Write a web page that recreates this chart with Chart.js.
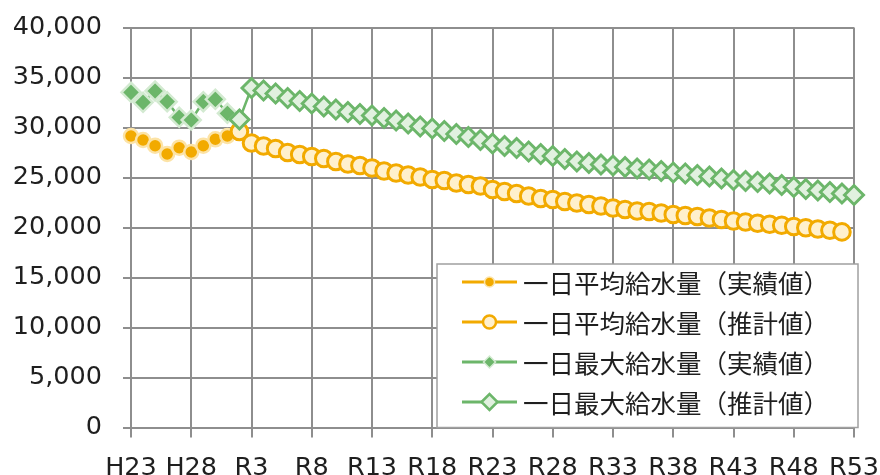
<!DOCTYPE html>
<html>
<head>
<meta charset="utf-8">
<script src="https://cdn.jsdelivr.net/npm/chart.js@4.4.0/dist/chart.umd.min.js"></script>
<style>
  html, body { margin: 0; padding: 0; background: #fff; overflow: hidden; }
  #wrap { width: 880px; height: 495px; }
</style>
</head>
<body>
<div id="wrap"><canvas id="grafico"></canvas></div>
<script>
// 年度ラベル（H23〜R53）
const years = ['H23','H24','H25','H26','H27','H28','H29','H30','R1'];
for (let r = 2; r <= 53; r++) years.push('R' + r);

// 実績値（H23〜R2）
const avgActual = [29150, 28750, 28180, 27350, 27980, 27550, 28180, 28820, 29150, 29600];
const maxActual = [33520, 32520, 33650, 32580, 31020, 30750, 32580, 32820, 31420, 30800];

// 推計値 平均（R2〜R52）
const avgForecast = [29600, 28450, 28150, 27900, 27500, 27300, 27100, 26900, 26600, 26350,
  26200, 25950, 25650, 25450, 25250, 25050, 24800, 24700, 24450, 24300,
  24150, 23800, 23600, 23400, 23150, 22900, 22800, 22600, 22450, 22300,
  22150, 21950, 21800, 21650, 21600, 21450, 21300, 21200, 21100, 20950,
  20800, 20650, 20550, 20430, 20330, 20230, 20100, 19980, 19850, 19720, 19560];

// 推計値 最大（R2〜R53）
const maxForecast = [30800, 33950, 33700, 33400, 32950, 32650, 32400, 32100, 31800, 31550,
  31350, 31200, 30950, 30700, 30400, 30100, 29900, 29650, 29350, 29050,
  28750, 28400, 28150, 27950, 27600, 27350, 27150, 26850, 26600, 26450,
  26300, 26200, 26050, 25900, 25800, 25650, 25500, 25400, 25250, 25100,
  24900, 24750, 24650, 24550, 24400, 24250, 24050, 23850, 23700, 23550, 23400, 23250];

const seriesNames = [
  '一日平均給水量（実績値）',
  '一日平均給水量（推計値）',
  '一日最大給水量（実績値）',
  '一日最大給水量（推計値）'
];

const NARANJA = '#F2AA00';
const CREMA = '#FFF0CC';
const VERDE = '#6CB66A';
const VERDE_CLARO = '#E1F1DF';
const GRIS = '#8E8E8E';

// rellenar con null para alinear en el eje
function alinear(valores, inicio) {
  const out = new Array(years.length).fill(null);
  valores.forEach((v, i) => { out[inicio + i] = v; });
  return out;
}

const estilos = [
  { color: NARANJA, fill: NARANJA, border: '#FCE3A6', style: 'circle', r: 7, bw: 2.5, lr: 5, lbw: 1.5 },
  { color: NARANJA, fill: CREMA, border: NARANJA, style: 'circle', r: 8.3, bw: 3, lr: 6.5, lbw: 2.5 },
  { color: VERDE, fill: VERDE, border: '#D3EAD1', style: 'rectRot', r: 9.5, bw: 2.5, lr: 6, lbw: 1.5 },
  { color: VERDE, fill: VERDE_CLARO, border: VERDE, style: 'rectRot', r: 9.5, bw: 3, lr: 8, lbw: 2.5 }
];

const datos = [alinear(avgActual, 0), alinear(avgForecast, 9), alinear(maxActual, 0), alinear(maxForecast, 9)];

const datasets = datos.map((d, i) => ({
  label: seriesNames[i],
  data: d,
  borderColor: estilos[i].color,
  borderWidth: 2.5,
  pointStyle: estilos[i].style,
  pointRadius: estilos[i].r,
  pointBackgroundColor: estilos[i].fill,
  pointBorderColor: estilos[i].border,
  pointBorderWidth: estilos[i].bw,
  spanGaps: false,
  order: 4 - i
}));

// leyenda dibujada dentro del área del gráfico (línea + marcador)
const leyendaPlugin = {
  id: 'leyendaInterna',
  afterDraw(chart) {
    const ctx = chart.ctx;
    const area = chart.chartArea;
    const x0 = 437, y0 = 264, x1 = 858, y1 = area.bottom;
    ctx.save();
    ctx.fillStyle = '#fff';
    ctx.fillRect(x0, y0, x1 - x0, y1 - y0);
    ctx.strokeStyle = '#A0A0A0';
    ctx.lineWidth = 1.5;
    ctx.strokeRect(x0, y0, x1 - x0, y1 - y0);
    ctx.font = '25.5px "Noto Sans CJK JP"';
    ctx.textBaseline = 'middle';
    ctx.textAlign = 'left';
    seriesNames.forEach((name, i) => {
      const y = 282 + i * 40;
      const e = estilos[i];
      ctx.strokeStyle = e.color;
      ctx.lineWidth = 3;
      ctx.beginPath();
      ctx.moveTo(462, y);
      ctx.lineTo(517, y);
      ctx.stroke();
      ctx.fillStyle = e.fill;
      ctx.strokeStyle = e.border;
      ctx.lineWidth = e.lbw;
      Chart.helpers.drawPoint(ctx, { pointStyle: e.style, radius: e.lr, rotation: 0, borderWidth: e.lbw }, 489.5, y);
      ctx.fillStyle = '#1f1f1f';
      ctx.fillText(name, 523, y + 1);
    });
    ctx.restore();
  }
};

new Chart(document.getElementById('grafico'), {
  type: 'line',
  data: { labels: years, datasets: datasets },
  options: {
    responsive: true,
    maintainAspectRatio: false,
    animation: false,
    layout: { padding: { left: 14, top: 27.5, right: 1.5, bottom: 15.5 } },
    plugins: { legend: { display: false }, tooltip: { enabled: false } },
    elements: { line: { tension: 0 } },
    scales: {
      x: {
        offset: false,
        afterFit: s => { s.height = 52; s.paddingLeft = 0; s.paddingRight = 26; },
        grid: {
          color: c => (c.index % 5 === 0 ? GRIS : 'rgba(0,0,0,0)'),
          tickColor: c => (c.index % 5 === 0 ? GRIS : 'rgba(0,0,0,0)'),
          lineWidth: 2,
          tickLength: 10
        },
        border: { color: GRIS, width: 2 },
        ticks: {
          autoSkip: false,
          maxRotation: 0,
          minRotation: 0,
          padding: 16,
          color: '#1f1f1f',
          font: { family: '"DejaVu Sans"', size: 25.5 },
          callback: (v, i) => (i % 5 === 0 ? years[i] : '')
        }
      },
      y: {
        min: 0,
        max: 40000,
        afterFit: s => { s.width = 117; s.paddingTop = 0; s.paddingBottom = 0; },
        grid: { color: GRIS, lineWidth: 2, tickLength: 8 },
        border: { color: GRIS, width: 2 },
        ticks: {
          stepSize: 5000,
          padding: 21,
          color: '#1f1f1f',
          font: { family: '"DejaVu Sans"', size: 25.5 },
          callback: v => v.toLocaleString('en-US')
        }
      }
    }
  },
  plugins: [leyendaPlugin]
});
</script>
</body>
</html>
